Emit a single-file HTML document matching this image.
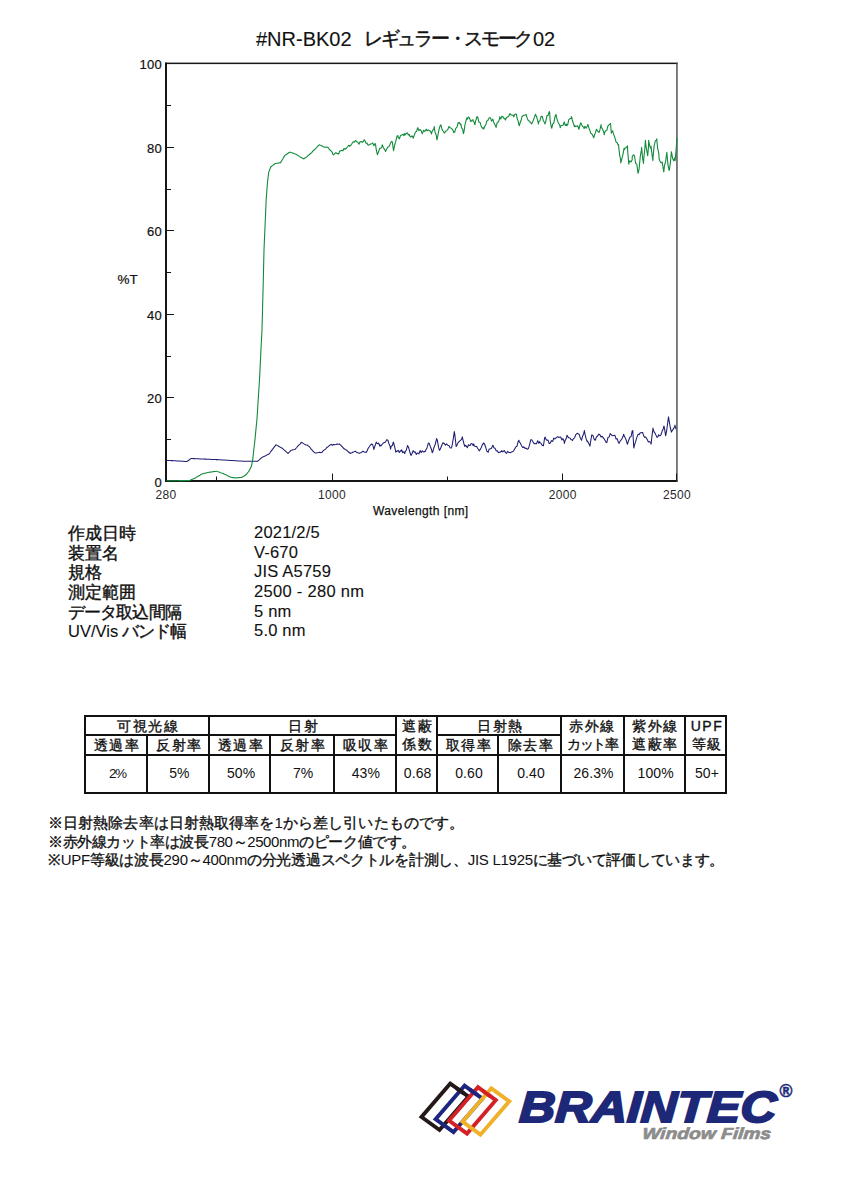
<!DOCTYPE html>
<html><head><meta charset="utf-8">
<style>
*{margin:0;padding:0;box-sizing:border-box}
html,body{width:848px;height:1200px;background:#fff;overflow:hidden}
body{position:relative;font-family:"Liberation Sans",sans-serif;color:#111}
.a{position:absolute;white-space:nowrap;line-height:1}
.title{top:29px;font-size:19px;letter-spacing:0.5px;-webkit-text-stroke:0.2px #111}
.yl{font-size:13px;text-align:right;width:40px;letter-spacing:0.3px;-webkit-text-stroke:0.2px #111}
.xl{font-size:12px;text-align:center;width:60px;letter-spacing:0.3px;color:#2a2a2a}
.info{font-size:16.5px;-webkit-text-stroke:0.4px #111}
.info.v{-webkit-text-stroke:0.1px #111}
.note{font-size:15px;left:48px;-webkit-text-stroke:0.35px #111}
.lt{-webkit-text-stroke:0}
table{position:absolute;left:84px;top:714.8px;border-collapse:collapse;table-layout:fixed;width:641.4px;border-bottom:2px solid #111}
td{border:2px solid #111;letter-spacing:1.5px;white-space:nowrap;padding-left:2.5px !important;text-align:center;font-size:14px;padding:0;line-height:1;-webkit-text-stroke:0.35px #111}
td.r2{line-height:18.6px}
tr.d td{font-size:14px;letter-spacing:0.1px;-webkit-text-stroke:0;padding-bottom:1.5px}
</style></head><body>
<div class="a title" style="left:256px;top:29.3px;font-size:20px;letter-spacing:0px;-webkit-text-stroke:0.1px #111">#NR-BK02</div>
<div class="a title" style="left:364px;letter-spacing:-2.3px;-webkit-text-stroke:0.45px #111">レギュラー・スモーク</div>
<div class="a title" style="left:533px;top:29.3px;font-size:20px;letter-spacing:0px;-webkit-text-stroke:0.1px #111">02</div>

<svg class="a" style="left:0;top:0" width="848" height="1200" viewBox="0 0 848 1200">
<g fill="#161616">
<rect x="165" y="62.6" width="2" height="419.4"/>
<rect x="165" y="62.6" width="512.6" height="1.5"/>
<rect x="165" y="480" width="512.6" height="2"/>
<rect x="676.2" y="62.6" width="1.5" height="419.4" fill="#555"/>
</g>
<g fill="none" stroke="#161616" stroke-width="1">
<path d="M166,147.5 H174 M166,230.5 H174 M166,314.5 H174 M166,397.5 H174 M166,105.5 H171 M166,189.5 H171 M166,272.5 H171 M166,356.5 H171 M166,439.5 H171"/>
<path d="M216.5,481 V476.5 M332.5,481 V473.5 M447.5,481 V476.5 M562.5,481 V473.5 M676.5,481 V473.5"/>
</g>
<polyline fill="none" stroke="#1c1c70" stroke-width="1.05" stroke-linejoin="round" points="166.4,460.3 166.4,460.3 167.6,460.4 168.7,460.4 169.9,460.5 171.0,460.6 172.2,460.6 173.3,460.7 174.5,460.8 175.6,460.8 176.8,460.9 177.9,461.0 179.1,461.0 180.2,461.1 181.4,461.2 182.5,461.2 183.7,461.3 184.8,461.4 186.0,461.4 186.9,461.5 187.2,461.3 188.3,460.5 189.5,459.7 190.6,458.8 191.1,458.5 191.8,458.5 192.9,458.6 194.1,458.6 195.2,458.7 196.4,458.7 197.5,458.8 198.7,458.8 199.8,458.9 201.0,458.9 202.1,459.0 203.3,459.0 204.4,459.1 205.6,459.1 206.8,459.2 207.9,459.2 209.1,459.3 210.2,459.3 211.4,459.4 212.5,459.4 213.7,459.5 214.8,459.5 216.0,459.6 216.6,459.6 217.1,459.6 218.3,459.7 219.4,459.8 220.6,459.8 221.7,459.9 222.9,460.0 224.0,460.0 225.2,460.1 226.4,460.2 227.5,460.3 228.7,460.3 229.8,460.4 231.0,460.5 232.1,460.5 233.3,460.6 234.4,460.7 235.6,460.7 236.7,460.8 237.9,460.9 239.0,460.9 240.2,461.0 241.3,461.1 242.5,461.2 243.7,461.2 244.8,461.3 244.9,461.3 246.0,461.3 247.1,461.3 248.3,461.3 249.4,461.3 250.6,461.3 251.7,461.3 252.9,461.3 254.0,461.3 255.2,461.3 256.3,461.3 257.5,461.3 257.6,461.3 258.6,460.4 259.8,459.4 260.9,458.3 261.9,457.5 262.1,457.4 263.3,456.8 264.4,456.3 265.6,455.7 266.7,455.1 267.9,454.6 269.0,454.0 269.0,454.0 270.2,452.5 271.3,450.9 272.5,449.4 273.6,447.9 274.8,446.4 275.9,444.9 276.0,444.8 277.1,445.4 278.2,446.0 279.4,446.7 280.5,447.3 281.7,447.9 281.8,448.0 282.9,448.9 284.0,449.9 285.2,450.9 286.3,451.9 287.5,452.9 288.0,453.4 288.6,452.8 289.8,451.6 290.9,450.4 291.0,450.3 292.1,450.1 293.2,449.8 294.4,449.6 294.9,449.5 295.5,448.8 296.7,447.5 297.8,446.2 299.0,444.9 300.1,444.1 301.0,442.6 301.3,442.4 302.5,442.8 303.6,443.6 304.8,444.4 305.9,445.0 307.1,444.9 307.9,445.7 308.2,445.9 309.4,446.7 310.5,448.3 311.7,449.7 312.8,450.9 314.0,452.2 314.8,452.6 315.1,452.9 316.3,453.0 317.4,452.8 318.6,452.6 319.7,452.3 320.9,452.8 321.7,452.6 322.1,452.1 323.2,450.7 324.4,449.9 324.8,449.5 325.5,449.3 326.7,447.5 327.8,447.0 329.0,445.8 330.1,444.9 330.1,444.9 331.3,444.5 332.4,445.2 333.6,444.4 334.7,444.7 335.9,444.4 337.0,443.9 338.2,444.3 339.3,444.2 339.4,443.9 340.5,445.0 341.7,446.1 342.8,447.4 343.9,448.8 344.0,448.4 345.1,449.5 346.3,450.0 347.0,450.3 347.4,451.1 348.6,452.0 349.7,453.0 350.8,453.4 350.9,453.1 352.0,452.7 353.2,452.0 354.3,451.7 355.4,451.1 355.5,451.3 356.6,452.2 357.8,452.8 359.0,453.0 359.2,453.4 360.1,452.9 361.3,452.4 362.3,451.8 362.4,451.3 363.6,451.6 364.7,452.2 365.9,452.2 366.1,452.6 367.0,451.0 368.2,448.2 368.4,448.0 369.3,446.7 370.5,445.0 371.6,444.0 372.3,444.2 372.8,445.0 373.8,449.5 373.9,449.1 375.1,445.5 376.1,442.6 376.2,442.1 377.4,443.8 378.6,443.1 379.7,446.0 380.0,444.9 380.9,445.9 382.0,444.5 383.2,443.0 383.5,443.0 384.3,442.5 385.5,442.1 386.6,439.7 387.8,440.2 388.0,440.3 388.9,443.6 390.1,446.4 390.6,449.2 391.2,446.2 392.4,445.5 393.3,442.1 393.5,442.5 394.7,446.9 395.8,452.2 395.9,451.0 397.0,451.4 398.2,450.3 399.3,452.5 400.5,450.6 401.2,451.0 401.6,449.8 402.8,452.7 403.9,451.7 404.8,453.6 405.1,452.1 406.2,450.3 407.4,446.2 407.4,445.6 408.5,447.1 409.7,451.7 410.8,454.7 411.0,455.4 412.0,453.7 413.1,450.8 413.6,451.0 414.3,452.2 415.4,452.0 416.3,454.5 416.6,453.6 417.8,453.0 418.9,453.9 419.8,451.8 420.1,450.4 421.2,452.6 422.4,450.8 423.5,452.0 424.7,451.5 425.1,451.8 425.8,449.9 427.0,447.9 428.1,443.8 428.6,443.0 429.3,443.6 430.4,446.7 431.6,449.7 432.2,452.7 432.7,452.1 433.9,447.7 435.0,445.0 436.2,440.5 436.6,438.6 437.4,440.3 438.5,447.2 439.3,450.1 439.7,450.3 440.8,447.7 442.0,444.7 442.8,443.0 443.1,442.7 444.3,443.5 445.4,445.1 446.6,443.8 447.7,445.2 448.9,445.5 449.0,445.6 450.0,447.8 451.2,448.1 451.6,447.4 452.3,444.4 453.5,437.3 454.3,431.5 454.7,433.8 455.8,443.2 456.1,446.5 457.0,445.1 458.1,442.6 459.3,441.3 460.4,440.3 461.6,439.3 462.3,436.8 462.7,438.6 463.9,443.7 464.9,446.5 465.0,445.2 466.2,445.8 467.3,447.7 468.5,444.8 469.6,445.4 470.2,445.6 470.8,443.9 471.9,443.5 473.1,445.5 473.8,443.9 474.3,446.1 475.4,446.5 476.6,446.4 477.7,448.5 478.9,449.8 479.1,451.0 480.0,449.9 481.2,447.8 482.3,444.9 483.5,443.1 483.5,443.0 484.6,444.0 485.8,447.7 486.9,451.3 487.9,451.8 488.1,452.4 489.2,448.9 490.4,448.9 491.5,448.2 492.7,445.4 493.2,445.6 493.9,447.8 495.0,448.2 496.2,450.7 496.8,451.0 497.3,450.8 498.5,452.8 499.6,452.3 500.8,451.8 501.9,450.6 502.1,451.8 503.1,451.7 504.2,450.5 505.4,452.4 506.5,453.5 507.7,451.3 508.8,452.5 510.0,452.6 510.9,452.7 511.1,452.1 512.3,451.7 513.5,451.1 514.6,449.0 515.8,446.9 516.2,446.5 516.9,446.3 518.1,441.7 518.9,440.3 519.2,441.6 520.4,443.2 521.5,445.4 522.7,447.5 523.3,447.4 523.8,446.7 525.0,448.4 526.1,448.1 527.3,449.3 527.7,448.9 528.4,448.6 529.6,444.6 530.7,439.8 531.4,439.7 531.9,440.1 533.1,442.1 534.2,443.8 535.0,443.4 535.4,443.7 536.5,443.8 537.7,440.8 538.8,443.3 539.6,441.6 540.0,442.7 541.1,443.4 542.3,445.5 543.3,445.2 543.4,445.8 544.6,438.1 545.1,437.0 545.7,438.9 546.9,440.3 548.0,440.1 549.2,443.5 549.7,443.4 550.3,443.0 551.5,440.6 552.7,441.4 553.8,438.0 554.2,438.8 555.0,438.9 556.1,437.8 557.3,436.8 558.4,437.4 558.8,437.0 559.6,437.3 560.7,437.0 561.9,440.0 562.5,438.8 563.0,438.8 564.2,441.5 564.3,443.4 565.3,440.2 566.5,437.8 567.0,435.2 567.6,436.3 568.8,437.8 570.0,438.0 571.1,439.8 572.3,439.8 572.5,440.6 573.4,438.6 574.6,437.9 575.7,434.8 576.9,433.5 578.0,433.3 578.0,434.1 579.2,434.3 580.3,438.1 581.5,440.2 581.7,439.7 582.6,436.2 583.8,433.2 584.4,430.6 584.9,433.7 586.1,438.7 587.1,441.6 587.2,440.7 588.4,442.6 589.6,445.2 589.9,446.1 590.7,441.1 591.7,435.2 591.9,434.8 593.0,435.7 594.2,439.3 594.5,439.7 595.3,440.2 596.5,436.9 597.6,436.0 598.8,434.1 599.0,434.2 599.9,434.8 601.1,437.1 602.2,436.2 603.4,438.2 603.6,437.9 604.5,439.4 605.7,441.6 606.3,442.5 606.8,442.6 608.0,437.3 609.2,437.1 610.0,434.2 610.3,433.6 611.5,435.0 612.6,435.7 613.8,435.5 614.6,435.2 614.9,435.4 616.1,439.0 617.2,438.7 618.4,442.5 619.1,443.4 619.5,442.2 620.7,440.3 621.8,439.1 623.0,436.6 623.7,434.2 624.1,435.8 625.3,437.9 626.4,440.8 627.4,444.3 627.6,443.7 628.8,440.0 629.9,437.2 631.1,436.5 632.2,430.9 632.8,430.6 633.4,441.5 633.8,448.0 634.5,445.2 635.7,441.4 636.8,437.4 637.4,436.1 638.0,434.3 639.1,434.6 640.3,432.7 641.4,432.7 642.0,432.4 642.6,432.5 643.7,435.9 644.9,437.4 645.6,437.0 646.0,437.4 647.2,439.6 648.4,442.0 649.5,441.6 650.7,442.4 651.1,444.3 651.8,437.6 653.0,428.1 653.0,428.8 654.1,431.9 655.3,433.6 656.4,436.1 656.6,437.0 657.6,437.3 658.7,434.8 659.9,436.0 661.0,434.7 661.2,434.2 662.2,430.9 663.3,428.7 663.9,426.0 664.5,428.4 665.6,435.7 665.8,435.2 666.8,429.8 668.0,420.6 668.5,416.9 669.1,420.7 670.3,427.5 671.3,431.5 671.4,432.1 672.6,430.1 673.7,428.4 674.9,426.5 674.9,425.1 676.0,428.9 676.3,428.8 676.3,428.8"/>
<polyline fill="none" stroke="#118a3a" stroke-width="1.1" stroke-linejoin="round" points="166.4,480.8 166.4,480.8 167.6,480.8 168.7,480.8 169.9,480.8 171.0,480.7 172.2,480.7 173.3,480.7 174.5,480.7 175.6,480.7 176.8,480.7 177.9,480.7 179.1,480.6 180.2,480.6 181.4,480.6 182.5,480.6 183.7,480.6 184.8,480.6 186.0,480.5 187.2,480.5 188.3,480.5 189.5,480.5 189.7,480.5 190.6,480.1 191.8,479.5 192.9,479.0 194.1,478.4 195.2,477.9 196.0,477.5 196.4,477.3 197.5,476.6 198.7,475.9 199.8,475.3 201.0,474.6 202.1,473.9 202.4,473.8 203.3,473.6 204.4,473.3 205.6,473.1 206.8,472.8 207.9,472.5 209.0,472.3 209.1,472.3 210.2,472.1 211.4,472.0 212.5,471.8 213.7,471.6 214.8,471.5 216.0,471.3 216.6,471.2 217.1,471.4 218.3,471.8 219.4,472.2 220.6,472.7 221.7,473.1 222.9,473.5 223.7,473.8 224.0,474.0 225.2,474.5 226.4,475.1 227.5,475.7 228.7,476.2 229.8,476.8 230.8,477.3 231.0,477.3 232.1,477.5 233.3,477.6 234.4,477.8 235.6,477.9 236.0,478.0 236.7,477.9 237.9,477.8 239.0,477.6 240.2,477.5 241.3,477.4 242.0,477.3 242.5,477.0 243.7,476.3 244.8,475.5 246.0,474.8 246.0,474.8 247.1,473.4 248.3,472.0 249.1,470.9 249.4,470.3 250.6,467.9 251.5,466.0 251.7,464.8 252.7,459.6 252.9,458.1 254.0,448.0 254.8,441.2 255.2,437.4 256.3,425.7 256.9,420.0 257.5,411.0 258.6,393.2 259.5,380.0 259.8,374.1 260.9,351.1 262.0,330.0 262.1,326.0 263.3,279.9 264.0,250.0 264.4,240.5 265.6,213.4 266.1,200.7 266.7,192.5 267.5,182.0 267.9,179.1 268.7,172.5 269.0,171.6 270.2,168.5 270.7,167.0 271.3,166.5 272.5,165.6 273.6,164.7 274.8,163.8 274.9,163.7 275.9,163.5 277.1,163.3 278.2,163.1 279.4,162.8 280.5,162.6 280.6,162.6 281.7,160.7 282.9,158.8 284.0,156.9 284.8,155.5 285.2,155.1 286.3,154.5 287.5,153.7 288.6,152.8 289.7,152.2 289.8,152.1 290.9,152.5 292.1,152.9 293.0,153.0 293.2,153.2 294.4,153.7 295.5,154.0 296.7,154.7 297.8,155.2 298.0,155.5 299.0,156.1 300.1,156.9 301.3,157.6 302.5,158.2 303.6,158.9 303.8,158.8 304.8,158.0 305.9,157.5 307.1,156.6 308.2,155.4 309.4,154.5 309.5,154.7 310.5,153.4 311.7,152.7 312.8,151.2 314.0,150.0 315.1,149.1 316.3,147.8 317.4,146.5 318.6,145.4 319.4,144.8 319.7,145.0 320.9,145.3 322.1,145.9 323.2,146.8 324.4,147.2 324.4,147.2 325.5,147.1 326.7,147.2 327.7,147.2 327.8,147.1 329.0,148.8 330.1,150.2 331.3,151.1 332.4,152.5 332.6,153.8 333.6,154.8 334.7,153.6 335.9,152.6 337.0,153.6 338.2,154.0 339.2,153.0 339.4,151.5 340.5,150.7 341.7,150.2 342.8,150.9 344.0,148.5 345.1,149.2 346.3,148.3 347.4,147.0 348.6,145.3 349.2,145.6 349.7,146.5 350.9,145.2 352.0,143.5 353.2,141.8 354.3,142.1 355.5,140.5 355.8,140.6 356.6,141.7 357.8,142.2 359.0,144.2 359.0,143.9 360.1,141.8 361.3,141.5 362.4,142.4 363.6,141.2 364.0,139.8 364.7,140.1 365.9,143.1 367.0,143.0 367.3,143.9 368.2,145.2 369.3,144.8 370.5,144.0 371.6,143.7 372.8,143.1 373.9,145.7 375.1,143.5 375.6,144.8 376.2,149.3 377.2,153.8 377.4,154.7 378.6,151.6 379.7,148.4 380.9,148.2 382.0,146.5 382.2,144.8 383.2,147.3 384.3,149.1 385.5,151.0 385.5,151.4 386.6,149.3 387.8,147.1 388.9,146.7 390.1,144.2 391.2,141.6 392.0,141.5 392.4,142.4 393.5,150.4 393.5,150.8 394.7,145.0 395.8,141.2 397.0,136.1 397.1,136.3 397.9,135.7 398.2,137.4 399.3,138.9 399.7,138.0 400.5,135.5 401.6,135.1 402.8,134.4 403.9,135.6 404.2,133.6 405.1,134.8 406.2,133.4 407.4,133.1 408.5,135.0 409.5,134.5 409.7,135.9 410.8,137.0 412.0,135.8 413.0,137.1 413.1,138.2 414.3,135.2 415.4,132.1 416.6,131.6 417.4,128.3 417.8,127.7 418.9,130.6 420.1,129.5 421.2,130.9 421.8,132.7 422.4,133.7 423.5,130.3 424.7,131.4 425.8,129.9 426.3,129.2 427.0,130.9 428.1,129.9 429.3,130.6 430.4,131.2 431.6,134.0 431.6,132.7 432.7,130.3 433.9,128.9 434.2,126.5 435.0,132.1 436.2,135.0 436.9,139.8 437.4,138.1 438.5,131.9 439.7,126.9 440.4,125.6 440.8,124.7 442.0,129.4 443.1,131.0 444.3,133.0 444.8,132.7 445.4,131.3 446.6,130.7 447.7,129.7 448.9,126.6 449.3,126.5 450.0,127.8 451.2,128.2 452.3,129.3 453.5,131.6 453.7,132.7 454.7,132.0 455.8,128.3 457.0,127.1 458.1,123.0 458.1,122.9 459.3,122.6 460.4,124.8 460.8,123.9 461.6,127.9 462.7,129.3 463.4,133.6 463.9,132.1 465.0,124.9 466.2,119.9 467.0,117.7 467.3,119.3 468.5,116.9 469.6,118.3 470.8,121.6 471.9,120.3 473.1,119.8 473.1,121.2 474.3,122.3 474.9,124.8 475.4,121.6 476.6,118.3 476.7,116.8 477.7,117.1 478.9,122.1 480.0,122.2 481.2,126.3 482.3,128.1 483.5,127.9 483.8,129.2 484.6,126.5 485.8,124.8 486.9,120.9 488.1,120.3 488.2,119.5 489.2,117.8 490.4,117.7 491.5,121.2 492.6,119.5 492.7,119.0 493.9,122.7 495.0,124.7 496.1,127.4 496.2,126.6 497.3,122.3 498.5,121.9 499.6,118.7 499.7,116.8 500.8,118.9 501.9,116.2 503.1,116.9 504.2,118.8 505.0,118.6 505.4,120.0 506.5,117.5 507.7,117.0 508.8,116.0 510.0,113.6 510.3,114.2 511.1,115.0 512.3,115.0 513.5,115.6 513.8,116.8 514.6,114.5 515.8,114.1 516.5,114.2 516.9,117.7 518.1,120.9 519.1,125.6 519.2,125.8 520.4,122.0 521.5,119.3 521.8,116.8 522.7,116.0 523.8,115.3 525.0,114.9 526.1,114.4 526.2,115.0 527.3,118.4 528.4,120.8 529.6,121.0 529.8,122.1 530.7,122.5 531.6,124.0 531.9,123.4 533.1,120.7 534.2,117.9 535.3,114.9 535.4,114.2 536.5,116.6 537.7,120.7 538.5,124.0 538.8,121.7 540.0,120.7 541.1,116.3 541.7,116.5 542.3,116.3 543.4,121.0 544.6,122.5 544.9,124.0 545.7,121.7 546.9,115.9 547.0,115.5 548.0,115.5 549.2,111.6 549.6,112.3 550.2,120.8 550.3,121.5 551.5,127.9 551.8,128.2 552.7,123.9 553.8,123.2 555.0,116.6 556.0,114.4 556.1,115.7 557.3,120.1 558.4,123.0 559.6,124.8 560.3,127.7 560.7,125.7 561.9,125.5 563.0,125.3 564.0,122.4 564.2,121.9 565.3,125.5 566.5,124.2 566.6,125.6 567.6,125.1 568.8,119.7 570.0,118.6 571.1,118.5 571.4,116.5 572.3,120.0 573.4,123.7 574.6,126.7 574.6,125.6 575.7,126.5 576.9,126.3 577.2,125.6 578.0,126.3 578.8,129.3 579.2,128.0 580.3,123.6 581.0,122.9 581.5,124.6 582.6,126.6 583.8,127.2 584.1,128.7 584.9,126.2 586.1,128.2 587.2,126.3 587.9,124.5 588.4,126.3 589.4,129.3 589.6,129.7 590.7,133.1 591.9,134.0 593.0,136.1 593.7,137.8 594.2,136.1 595.3,132.9 596.5,129.2 596.9,129.8 597.6,131.3 598.8,131.9 599.0,132.5 599.9,129.9 601.1,124.6 601.1,126.1 602.2,128.6 603.4,130.9 604.3,134.6 604.5,132.8 605.7,130.9 606.4,130.3 606.8,130.3 608.0,125.7 608.0,126.1 609.2,124.5 610.3,123.9 610.5,123.3 611.4,133.2 611.5,132.3 612.6,130.8 613.8,134.8 613.8,134.6 614.9,137.8 616.1,142.0 616.6,142.6 617.2,142.8 618.4,145.6 618.5,144.5 619.5,154.2 620.7,160.3 620.8,162.9 621.8,158.9 623.0,154.3 624.1,148.2 624.2,149.7 625.3,147.9 626.4,147.5 627.5,145.9 627.6,149.8 628.8,164.2 628.9,163.4 629.9,160.8 631.1,161.9 632.2,159.6 632.2,156.7 633.4,154.9 634.5,155.8 634.5,156.0 635.7,163.5 636.8,164.0 638.0,173.1 638.3,172.8 639.1,168.9 640.3,156.3 641.4,149.9 641.6,147.4 642.6,158.0 643.5,163.4 643.7,159.6 644.9,147.7 645.4,140.3 646.0,146.2 647.2,153.0 647.7,155.8 648.4,147.9 648.7,140.3 649.5,145.0 650.7,148.4 651.0,146.4 651.8,152.9 652.9,160.6 653.0,157.8 654.1,145.9 654.3,145.5 655.3,141.0 656.4,140.1 656.7,138.9 657.6,147.8 658.7,152.8 659.1,158.7 659.9,161.0 661.0,162.8 662.2,162.1 662.4,163.4 663.3,169.2 663.8,171.9 664.5,165.3 665.6,161.6 666.6,154.0 666.8,152.2 668.0,164.8 669.1,170.3 669.4,170.0 670.3,163.1 671.3,153.0 671.4,151.7 672.6,158.2 673.7,160.8 674.9,157.8 675.1,160.6 676.0,151.3 677.0,137.9 677.0,137.9"/>
</svg>
<div class="a yl" style="left:122px;top:57.5px">100</div>
<div class="a yl" style="left:122px;top:141.5px">80</div>
<div class="a yl" style="left:122px;top:225px">60</div>
<div class="a yl" style="left:122px;top:308.5px">40</div>
<div class="a yl" style="left:122px;top:392px">20</div>
<div class="a yl" style="left:122px;top:475.5px">0</div>
<div class="a" style="left:117.5px;top:272.5px;font-size:13.5px;-webkit-text-stroke:0.2px #111">%T</div>
<div class="a xl" style="left:136px;top:488.5px">280</div>
<div class="a xl" style="left:302px;top:488.5px">1000</div>
<div class="a xl" style="left:532.7px;top:488.5px">2000</div>
<div class="a xl" style="left:647px;top:488.5px">2500</div>
<div class="a" style="left:373px;top:504.5px;font-size:12px;letter-spacing:0.4px;-webkit-text-stroke:0.25px #111">Wavelength [nm]</div>

<div class="a info" style="left:68px;top:525px">作成日時</div>
<div class="a info" style="left:68px;top:544.6px">装置名</div>
<div class="a info" style="left:68px;top:564.3px">規格</div>
<div class="a info" style="left:68px;top:584px">測定範囲</div>
<div class="a info" style="left:68px;top:603.6px;letter-spacing:-0.9px">データ取込間隔</div>
<div class="a info" style="left:68px;top:623.2px;letter-spacing:-0.4px"><span style="-webkit-text-stroke:0.1px #111;letter-spacing:0px">UV/Vis</span> <span style="letter-spacing:-1.2px">バンド幅</span></div>
<div class="a info v" style="left:254px;top:524px;letter-spacing:0.2px">2021/2/5</div>
<div class="a info v" style="left:254px;top:543.6px;letter-spacing:0.2px">V-670</div>
<div class="a info v" style="left:254px;top:563.3px;letter-spacing:0.2px">JIS A5759</div>
<div class="a info v" style="left:254px;top:583px;letter-spacing:0.3px">2500 - 280 nm</div>
<div class="a info v" style="left:254px;top:602.6px;letter-spacing:0.2px">5 nm</div>
<div class="a info v" style="left:254px;top:622.2px;letter-spacing:0.2px">5.0 nm</div>

<table>
<colgroup><col style="width:61.9px"><col style="width:62.5px"><col style="width:60.8px"><col style="width:63.4px"><col style="width:62.1px"><col style="width:41.4px"><col style="width:61.3px"><col style="width:62.7px"><col style="width:62.5px"><col style="width:61.6px"><col style="width:41.2px"></colgroup>
<tr style="height:19px"><td colspan="2">可視光線</td><td colspan="3">日射</td><td class="r2" rowspan="2">遮蔽<br>係数</td><td colspan="2">日射熱</td><td class="r2" rowspan="2" style="letter-spacing:1.5px;padding-left:0 !important">赤外線<br><span style="letter-spacing:-1.4px">カット率</span></td><td class="r2" rowspan="2">紫外線<br>遮蔽率</td><td class="r2" rowspan="2"><span style="letter-spacing:1.5px">UPF</span><br>等級</td></tr>
<tr style="height:19px"><td>透過率</td><td>反射率</td><td>透過率</td><td>反射率</td><td>吸収率</td><td>取得率</td><td>除去率</td></tr>
<tr style="height:38.5px" class="d"><td><span style="letter-spacing:-1.6px;font-size:13.5px">2%</span></td><td>5%</td><td>50%</td><td>7%</td><td>43%</td><td>0.68</td><td>0.60</td><td>0.40</td><td>26.3%</td><td>100%</td><td>50+</td></tr>
</table>

<div class="a note" style="top:815px;letter-spacing:0.1px">※日射熱除去率は日射熱取得率を<span class="lt">1</span>から差し引いたものです。</div>
<div class="a note" style="top:833.5px;letter-spacing:-0.39px">※赤外線カット率は波長<span class="lt">780</span>～<span class="lt">2500nm</span>のピーク値です。</div>
<div class="a note" style="top:852px;letter-spacing:-0.28px">※<span class="lt">UPF</span>等級は波長<span class="lt">290</span>～<span class="lt">400nm</span>の分光透過スペクトルを計測し、<span class="lt">JIS L1925</span>に基づいて評価しています。</div>

<!-- logo -->
<svg class="a" style="left:0;top:0" width="848" height="1200" viewBox="0 0 848 1200">
<g fill="none" stroke-width="3.9" stroke-linejoin="miter">
<polygon stroke="#241818" points="450.3,1083.6 421.5,1117 439.5,1130 468.5,1096.6"/>
<polygon stroke="#1c2680" points="464.5,1085.7 435.6,1119.1 453.5,1132.1 482.4,1098.7"/>
<polygon stroke="#d42027" points="477.9,1087.2 449.1,1120.6 467,1133.6 495.8,1100.2"/>
<polygon stroke="#f0b12a" points="491.4,1088.3 462.5,1121.7 480.4,1134.7 509.3,1101.3"/>
<line x1="456.5" y1="1088.1" x2="463.9" y2="1093.3" stroke="#241818"/>
<line x1="469.9" y1="1089.6" x2="477.2" y2="1094.9" stroke="#1c2680"/>
<line x1="483.1" y1="1091.0" x2="490.4" y2="1096.3" stroke="#d42027"/>
</g>
</svg>
<div class="a" style="left:521px;top:1086px;font-size:43.6px;font-weight:bold;font-style:italic;color:#1e2878;transform-origin:0 0;transform:scaleX(1.14) skewX(-3deg);-webkit-text-stroke:2px #1e2878">BRAINTEC</div>
<div class="a" style="left:643px;top:1126px;font-size:16px;font-weight:bold;font-style:italic;color:#8c8c8c;transform-origin:0 0;transform:scaleX(1.2) skewX(-4deg);-webkit-text-stroke:0.7px #8c8c8c">Window Films</div>
<div class="a" style="left:779.5px;top:1083px;font-size:17.5px;font-weight:bold;color:#1e2878;-webkit-text-stroke:0.5px #1e2878">®</div>
</body></html>
